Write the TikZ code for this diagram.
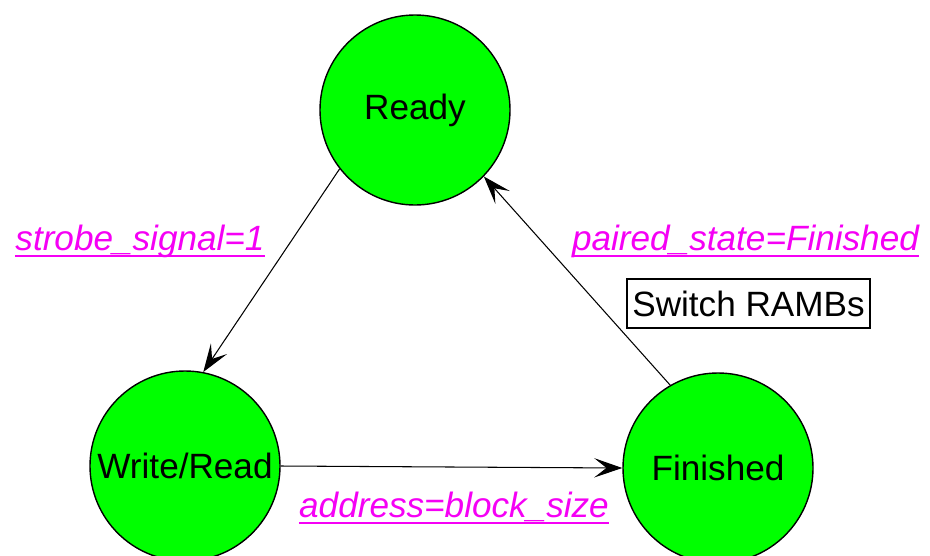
\documentclass[tikz,border=0pt]{standalone}
\usepackage{fontspec}
\setmainfont{Liberation Sans}
\usepackage{tikz}
\usetikzlibrary{arrows.meta, positioning}
\definecolor{stategreen}{RGB}{0,255,0}
\definecolor{condpink}{RGB}{245,0,245}
\tikzset{
  state/.style={circle, draw=black, line width=0.8pt, fill=stategreen, minimum size=3.8cm, inner sep=0pt, font=\fontsize{20}{24}\selectfont},
  trans/.style={draw=black, line width=0.6pt, -{Stealth[length=16pt, width=11pt, inset=7pt]}},
  cond/.style={text=condpink, inner sep=0pt, anchor=base, font=\fontsize{20}{24}\selectfont\itshape},
  condline/.style={draw=condpink, line width=1.5pt},
  action/.style={draw=black, line width=0.8pt, fill=white, inner sep=0pt, minimum width=4.86cm, minimum height=0.98cm, font=\fontsize{20}{24}\selectfont}
}

\begin{document}
\begin{tikzpicture}
  \useasboundingbox (0,0) rectangle (18.6,11.1);
  % States
  \node[state] (ready) at (8.30,8.90) {Ready};
  \node[state] (wr) at (3.70,1.78) {Write/Read};
  \node[state] (fin) at (14.36,1.74) {Finished};

  % Transitions
  \draw[trans] (ready.218) -- (wr.79);
  \draw[trans] (wr.east) -- (fin.west);
  \draw[trans] (fin.120) -- (ready.316);

  % Conditions, underlined
  \node[cond] (c1) at (2.80,6.10) {strobe\_signal=1};
  \node[cond] (c2) at (14.91,6.10) {paired\_state=Finished};
  \node[cond] (c3) at (9.08,0.76) {address=block\_size};
  \foreach \c in {c1,c2,c3}
    \draw[condline] ([yshift=-3.4pt]\c.base west) -- ([yshift=-3.4pt]\c.base east);

  % Action box
  \node[action] (sw) at (14.97,5.03) {Switch RAMBs};
\end{tikzpicture}
\end{document}
